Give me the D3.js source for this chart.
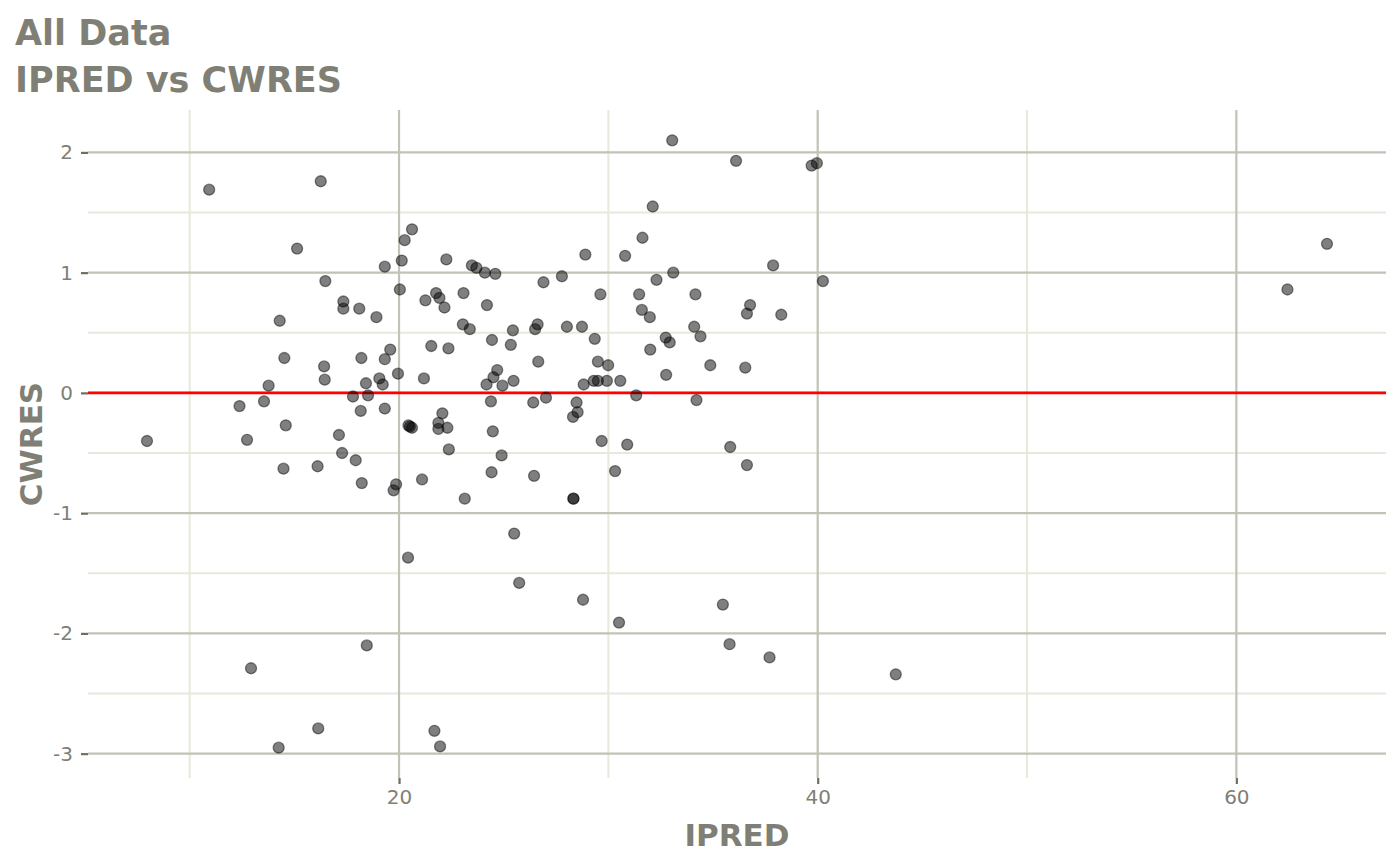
<!DOCTYPE html>
<html>
<head>
<meta charset="utf-8">
<script src="https://cdn.jsdelivr.net/npm/d3@7"></script>
<style>
  html, body { margin: 0; padding: 0; background: #ffffff; }
  svg { display: block; }
  text { font-family: "DejaVu Sans", sans-serif; }
</style>
</head>
<body>
<svg id="chart" width="1400" height="865"></svg>
<script>
// ---- Data ----
const titleLines = ["All Data", "IPRED vs CWRES"];
const xLabel = "IPRED";
const yLabel = "CWRES";
const xTicks = [20, 40, 60];
const xMinorTicks = [10, 30, 50];
const yTicks = [-3, -2, -1, 0, 1, 2];
const yMinorTicks = [-2.5, -1.5, -0.5, 0.5, 1.5];
const referenceLine = 0;

const ipred = [
  7.96, 10.93, 12.38, 12.74, 12.93, 13.55, 13.77, 14.25, 14.30, 14.48,
  14.52, 14.59, 15.13, 16.11, 16.26, 16.14, 16.42, 16.45, 16.48, 17.13,
  17.28, 17.34, 17.34, 17.80, 17.93, 18.10, 18.17, 18.22, 18.20, 18.42,
  18.46, 18.52, 18.92, 19.06, 19.22, 19.32, 19.32, 19.32, 19.58, 19.74,
  19.86, 19.95, 20.04, 20.13, 20.27, 20.43, 20.45, 20.62, 20.62, 21.10,
  21.19, 21.26, 21.54, 21.69, 21.77, 21.88, 21.88, 21.93, 21.96, 22.07,
  22.17, 22.26, 22.31, 22.36, 22.38, 23.08, 23.05, 23.14, 23.38, 23.48,
  23.70, 24.10, 24.20, 24.18, 24.39, 24.42, 24.44, 24.48, 24.51, 24.60,
  24.69, 24.90, 24.94, 25.34, 25.44, 25.47, 25.50, 25.74, 26.41, 26.45,
  26.50, 26.62, 26.65, 26.90, 27.02, 27.78, 28.02, 28.31, 28.33, 28.33,
  28.48, 28.53, 28.74, 28.79, 28.82, 28.90, 29.30, 29.35, 29.50, 29.50,
  29.62, 29.68, 29.93, 29.99, 30.32, 30.51, 30.57, 30.80, 30.90, 31.33,
  31.47, 31.60, 31.63, 31.98, 32.00, 32.12, 32.30, 32.74, 32.76, 32.93,
  33.05, 33.10, 34.10, 34.16, 34.21, 34.40, 34.87, 35.47, 35.79, 35.82,
  36.10, 36.54, 36.62, 36.62, 36.77, 37.70, 37.87, 38.26, 39.71, 39.96,
  40.25, 43.73, 62.44, 64.33, 20.52
];
const cwres = [
  -0.40, 1.69, -0.11, -0.39, -2.29, -0.07, 0.06, -2.95, 0.60, -0.63,
  0.29, -0.27, 1.20, -0.61, 1.76, -2.79, 0.22, 0.11, 0.93, -0.35,
  -0.50, 0.76, 0.70, -0.03, -0.56, 0.70, -0.15, -0.75, 0.29, 0.08,
  -2.10, -0.02, 0.63, 0.12, 0.07, 0.28, -0.13, 1.05, 0.36, -0.81,
  -0.76, 0.16, 0.86, 1.10, 1.27, -1.37, -0.27, -0.29, 1.36, -0.72,
  0.12, 0.77, 0.39, -2.81, 0.83, -0.25, -0.30, 0.79, -2.94, -0.17,
  0.71, 1.11, -0.29, 0.37, -0.47, 0.83, 0.57, -0.88, 0.53, 1.06,
  1.04, 1.00, 0.73, 0.07, -0.07, -0.66, 0.44, -0.32, 0.13, 0.99,
  0.19, -0.52, 0.06, 0.40, 0.52, 0.10, -1.17, -1.58, -0.08, -0.69,
  0.53, 0.57, 0.26, 0.92, -0.04, 0.97, 0.55, -0.20, -0.88, -0.88,
  -0.08, -0.16, 0.55, -1.72, 0.07, 1.15, 0.10, 0.45, 0.10, 0.26,
  0.82, -0.40, 0.10, 0.23, -0.65, -1.91, 0.10, 1.14, -0.43, -0.02,
  0.82, 0.69, 1.29, 0.63, 0.36, 1.55, 0.94, 0.46, 0.15, 0.42,
  2.10, 1.00, 0.55, 0.82, -0.06, 0.47, 0.23, -1.76, -2.09, -0.45,
  1.93, 0.21, 0.66, -0.60, 0.73, -2.20, 1.06, 0.65, 1.89, 1.91,
  0.93, -2.34, 0.86, 1.24, -0.28
];

// ---- Layout ----
const W = 1400, H = 865;
const panel = { left: 88, right: 1386, top: 110, bottom: 778 };
const textColor = "#7f7f75";
const majorGrid = "#c2c2b6";
const minorGrid = "#e8e8dc";
const tickColor = "#6e6e66";

const svg = d3.select("#chart");

// ggplot-like 5% expansion
const xExt = d3.extent(ipred), yExt = d3.extent(cwres);
const xPad = (xExt[1] - xExt[0]) * 0.05, yPad = (yExt[1] - yExt[0]) * 0.05;
const x = d3.scaleLinear().domain([xExt[0] - xPad, xExt[1] + xPad]).range([panel.left, panel.right]);
const y = d3.scaleLinear().domain([yExt[0] - yPad, yExt[1] + yPad]).range([panel.bottom, panel.top]);

// Minor gridlines
const grid = svg.append("g");
grid.selectAll("line.xminor").data(xMinorTicks).join("line")
  .attr("x1", d => x(d)).attr("x2", d => x(d))
  .attr("y1", panel.top).attr("y2", panel.bottom)
  .attr("stroke", minorGrid).attr("stroke-width", 2);
grid.selectAll("line.yminor").data(yMinorTicks).join("line")
  .attr("x1", panel.left).attr("x2", panel.right)
  .attr("y1", d => y(d)).attr("y2", d => y(d))
  .attr("stroke", minorGrid).attr("stroke-width", 2);
// Major gridlines
grid.selectAll("line.xmajor").data(xTicks).join("line")
  .attr("x1", d => x(d)).attr("x2", d => x(d))
  .attr("y1", panel.top).attr("y2", panel.bottom)
  .attr("stroke", majorGrid).attr("stroke-width", 2.2);
grid.selectAll("line.ymajor").data(yTicks).join("line")
  .attr("x1", panel.left).attr("x2", panel.right)
  .attr("y1", d => y(d)).attr("y2", d => y(d))
  .attr("stroke", majorGrid).attr("stroke-width", 2.2);

// Axes (ticks + labels only)
const xAxis = d3.axisBottom(x).tickValues(xTicks).tickSize(6).tickPadding(6).tickFormat(d3.format("d"));
const yAxis = d3.axisLeft(y).tickValues(yTicks).tickSize(7).tickPadding(8).tickFormat(d => d < 0 ? "-" + Math.abs(d) : String(d));

const gx = svg.append("g").attr("transform", `translate(0,${panel.bottom})`).call(xAxis);
const gy = svg.append("g").attr("transform", `translate(${panel.left},0)`).call(yAxis);
[gx, gy].forEach(g => {
  g.select(".domain").remove();
  g.selectAll(".tick line").attr("stroke", tickColor).attr("stroke-width", 2.2);
  g.selectAll(".tick text").attr("fill", textColor).attr("font-size", 20)
    .attr("font-family", "DejaVu Sans, sans-serif");
});

// Reference line
svg.append("line")
  .attr("x1", panel.left).attr("x2", panel.right)
  .attr("y1", y(referenceLine)).attr("y2", y(referenceLine))
  .attr("stroke", "#ff0000").attr("stroke-width", 2.8);

// Points
const pts = ipred.map((v, i) => ({ x: v, y: cwres[i] }));
svg.append("g").selectAll("circle").data(pts).join("circle")
  .attr("cx", d => x(d.x)).attr("cy", d => y(d.y))
  .attr("r", 5.5)
  .attr("fill", "#000").attr("fill-opacity", 0.5)
  .attr("stroke", "#000").attr("stroke-opacity", 0.45).attr("stroke-width", 1.3);

// Titles
svg.append("g").selectAll("text").data(titleLines).join("text")
  .attr("x", 15).attr("y", (d, i) => 45 + i * 47)
  .attr("fill", textColor).attr("font-size", 35).attr("font-weight", "bold")
  .text(d => d);

svg.append("text")
  .attr("x", (panel.left + panel.right) / 2).attr("y", 846)
  .attr("text-anchor", "middle")
  .attr("fill", textColor).attr("font-size", 31).attr("font-weight", "bold")
  .text(xLabel);

svg.append("text")
  .attr("transform", `translate(42,${(panel.top + panel.bottom) / 2}) rotate(-90)`)
  .attr("text-anchor", "middle")
  .attr("fill", textColor).attr("font-size", 31).attr("font-weight", "bold")
  .text(yLabel);
</script>
</body>
</html>
